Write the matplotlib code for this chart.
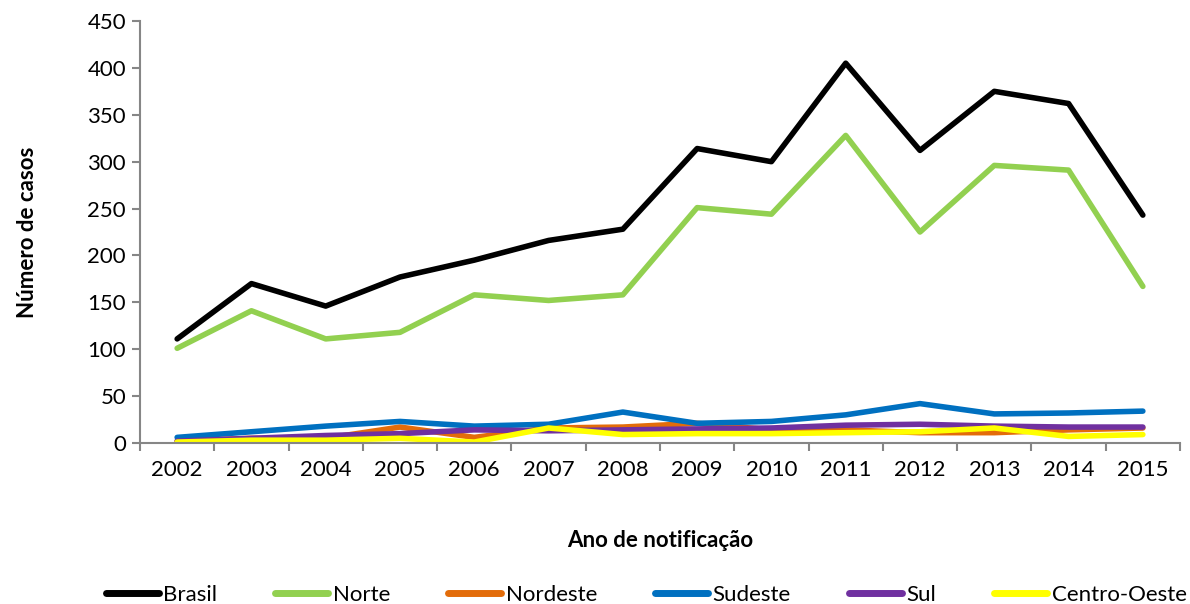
import numpy as np
import matplotlib.pyplot as plt

plt.rcParams['font.family'] = ['Lato', 'DejaVu Sans']

years = list(range(2002, 2016))
brasil = [111, 170, 146, 177, 195, 216, 228, 314, 300, 405, 312, 375, 362, 243]
norte = [101, 141, 111, 118, 158, 152, 158, 251, 244, 328, 225, 296, 291, 167]
nordeste = [2, 5, 5, 17, 6, 16, 17, 21, 14, 14, 11, 11, 14, 16]
sudeste = [6, 12, 18, 23, 18, 20, 33, 21, 23, 30, 42, 31, 32, 34]
sul = [2, 5, 8, 10, 14, 13, 14, 15, 16, 19, 20, 18, 17, 17]
centro_oeste = [1, 3, 3, 5, 1, 16, 9, 10, 10, 11, 12, 16, 7, 9]

series = [
    ('Brasil', brasil, '#000000'),
    ('Norte', norte, '#92d050'),
    ('Nordeste', nordeste, '#e36c0a'),
    ('Sudeste', sudeste, '#0070c0'),
    ('Sul', sul, '#7030a0'),
    ('Centro-Oeste', centro_oeste, '#ffff00'),
]

fig = plt.figure(figsize=(11.9, 6.04), dpi=100)
ax = fig.add_axes([140 / 1190, 1 - 443 / 604, 1040 / 1190, 422 / 604])

for name, vals, col in series:
    ax.plot(years, vals, color=col, lw=4, label=name, solid_capstyle='round')

ax.set_xlim(2001.5, 2015.5)
ax.set_ylim(0, 450)
ax.set_yticks(range(0, 451, 50))
ax.set_xticks(years)
ax.set_xticks(np.arange(2001.5, 2015.6, 1), minor=True)
ax.tick_params(axis='x', which='major', length=0, labelsize=16, pad=12)
ax.tick_params(axis='x', which='minor', length=6, color='#868686', width=1.5)
ax.tick_params(axis='y', length=6, color='#868686', width=1.5, labelsize=16, pad=4)

for s in ['top', 'right']:
    ax.spines[s].set_visible(False)
for s in ['left', 'bottom']:
    ax.spines[s].set_color('#868686')
    ax.spines[s].set_linewidth(1.5)

ax.set_xlabel('Ano de notificação', fontsize=16, fontweight='bold', labelpad=36)
ax.set_ylabel('Número de casos', fontsize=16, fontweight='bold')
ax.yaxis.set_label_coords(-0.098, 0.5)

leg = fig.legend(loc='lower center', bbox_to_anchor=(0.543, -0.035), ncol=6, frameon=False,
                 fontsize=16, handlelength=2.4, handletextpad=0.2, columnspacing=2.6)
for h in leg.get_lines():
    h.set_linewidth(5)

fig.savefig('out.png', dpi=100)
